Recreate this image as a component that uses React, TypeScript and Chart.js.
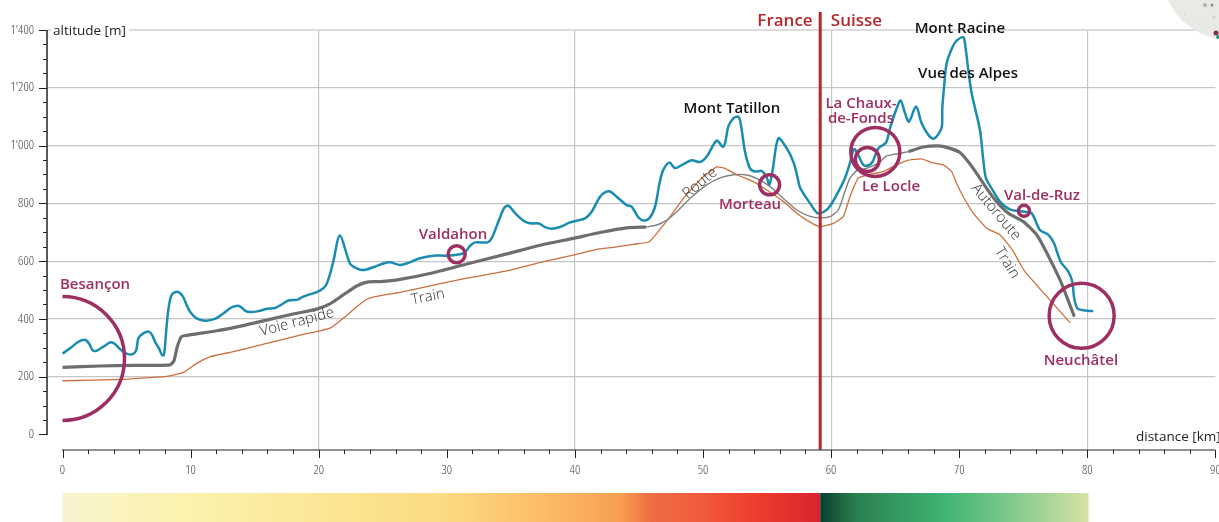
import React, { useEffect, useRef } from "react";
import { Chart, registerables } from "chart.js";

Chart.register(...registerables);

const terrainKm = [0,0.7,1.24,1.76,2.07,2.36,2.67,3.19,3.76,4.1,4.5,4.96,5.4,5.74,5.92,6.31,6.75,7.0,7.22,7.53,7.77,7.92,8.08,8.26,8.52,8.96,9.38,9.69,10.0,10.47,11.12,11.9,12.55,13.2,13.8,14.25,14.64,15.29,15.94,16.6,17.1,17.63,18.28,18.8,20.1,20.57,20.9,21.14,21.66,22.44,22.97,23.5,24.26,25.05,25.56,26.35,26.87,27.9,28.95,30.0,31.03,31.4,31.8,32.2,33.17,33.5,34.03,34.47,34.8,35.33,35.98,36.5,37.2,37.67,38.19,38.84,39.62,40.14,40.79,41.31,41.96,42.35,42.74,43.26,44.04,44.43,44.95,45.35,45.8,46.26,46.6,46.9,47.38,47.82,48.47,49.12,49.77,50.29,51.07,51.54,51.72,51.98,52.37,52.76,52.94,53.28,53.67,54.06,54.58,54.97,55.18,55.44,55.88,56.53,57.05,57.37,57.57,58.36,59.0,59.78,60.43,61.08,61.47,61.79,62.12,62.51,62.9,63.24,63.68,64.28,64.6,65.12,65.43,65.77,66.08,66.63,67.07,67.59,68.03,68.5,68.66,68.68,68.81,69.02,69.49,69.8,70.32,70.45,70.71,70.97,71.62,71.88,72.09,72.53,73.18,73.96,75.06,75.65,76.3,76.96,77.4,77.92,78.52,78.83,78.96,79.22,79.82,80.47];
const terrainAlt = [280,302,321,328,315,291,290,304,319,313,295,281,277,290,333,350,356,344,321,298,275,275,350,431,483,494,479,448,422,402,394,400,419,440,445,429,424,427,435,438,450,464,466,477,498,517,558,598,689,592,575,569,579,592,596,587,592,610,619,619,624,629,652,665,665,679,737,783,792,766,740,731,730,718,712,718,734,740,748,771,823,838,841,823,794,789,752,741,748,789,869,916,941,922,936,949,943,962,1017,996,1008,1066,1094,1100,1077,979,921,910,912,890,864,916,1025,991,944,892,855,800,765,783,829,887,939,988,967,933,931,944,990,1010,1060,1129,1156,1112,1083,1135,1077,1037,1024,1048,1071,1129,1198,1285,1342,1363,1375,1354,1262,1181,1054,950,887,852,806,779,771,766,708,691,662,598,564,529,477,437,429,427];

const motorwayWestKm = [0,2.93,5.53,8.39,8.7,8.96,9.3,9.69,12.03,14.1,15.94,18.0,19.84,20.88,21.92,22.97,23.87,24.8,26.35,28.95,31.55,34.68,37.28,39.88,41.96,44.04,45.55];
const motorwayWestAlt = [232,237,239,241,255,304,339,343,359,377,396,417,434,452,483,514,528,529,537,560,590,625,655,679,699,715,718];

const roadKm = [45.55,46.39,47.17,47.95,48.99,50.29,51.33,52.37,53.41,54.32,55.24,56.28,57.32,58.3,59.13,59.91,60.56,61.08,61.47,62.0,62.77,63.68,64.34,65.38,66.03];
const roadAlt = [718,725,742,771,817,864,888,899,898,883,858,817,777,756,750,754,777,841,887,913,921,939,964,973,979];

const motorwayEastKm = [66.03,67.2,68.37,69.15,70.06,70.71,71.36,72.14,72.92,73.83,75.0,76.05,76.7,77.87,78.39,78.99];
const motorwayEastAlt = [979,995,999,992,976,944,904,852,806,766,737,691,640,535,477,408];

const railKm = [0,4.75,6.83,8.13,9.43,10.47,11.5,13.34,15.94,18.54,20.1,21.0,21.92,22.97,23.75,24.5,26.35,28.95,31.55,34.68,37.54,39.88,41.7,43.0,44.56,45.81,46.39,47.43,48.47,49.77,51.07,51.72,52.63,53.93,54.97,56.28,57.32,58.35,59.13,60.17,60.95,61.47,62.12,62.77,64.07,65.12,65.9,67.07,67.85,68.76,69.41,69.8,70.32,71.1,72.14,73.18,74.15,74.74,75.13,77.09,78.65];
const railAlt = [186,191,197,201,215,246,269,287,315,344,359,371,402,442,468,478,492,517,541,566,598,621,641,648,658,667,696,754,817,881,926,921,899,875,846,806,766,735,719,731,754,823,887,898,910,933,948,954,941,933,910,869,823,766,714,691,639,592,564,465,387];

const border = { km: 59.15, from: -53, to: 1462 };

const towns = [
  { name: "Valdahon", km: 30.77, alt: 624, radius: 8.5 },
  { name: "Morteau", km: 55.2, alt: 864, radius: 10 },
  { name: "La Chaux-de-Fonds", km: 63.45, alt: 978, radius: 24.5 },
  { name: "Le Locle", km: 62.83, alt: 952, radius: 12 },
  { name: "Val-de-Ruz", km: 75.06, alt: 774, radius: 5.5 },
  { name: "Neuchâtel", km: 79.56, alt: 411, radius: 32.5 },
];
const firstTown = { name: "Besançon", km: 0, alt: 263, radius: 62 };

const townLabels: [string, number, number][] = [
  ["Besançon", 2.54, 518],
  ["Valdahon", 30.48, 691],
  ["Morteau", 53.67, 795],
  ["La Chaux-", 62.33, 1144],
  ["de-Fonds", 62.33, 1092],
  ["Le Locle", 64.68, 857],
  ["Val-de-Ruz", 76.46, 826],
  ["Neuchâtel", 79.5, 255],
];
const peakLabels: [string, number, number][] = [
  ["Mont Tatillon", 52.26, 1127],
  ["Mont Racine", 70.06, 1404],
  ["Vue des Alpes", 70.69, 1248],
];
const countryLabels: [string, number, number][] = [
  ["France", 56.4, 1432],
  ["Suisse", 61.98, 1432],
];
const routeLabels: [string, number, number, number][] = [
  ["Voie rapide", 18.3, 389, -15],
  ["Train", 28.53, 476, -11],
  ["Route", 49.77, 870, -40],
  ["Autoroute", 72.87, 770, 50],
  ["Train", 73.73, 594, 58],
];

const xTicks = [0,2,4,6,8,10,12,14,16,18,20,22,24,26,28,30,32,34,36,38,40,42,44,46,48,50,52,54,56,58,60,62,64,66,68,70,72,74,76,78,80,82,84,86,88,90];
const yTicks = [0,50,100,150,200,250,300,350,400,450,500,550,600,650,700,750,800,850,900,950,1000,1050,1100,1150,1200,1250,1300,1350,1400];
const xGridKm = [20, 40, 60, 80];

const franceStops: [number, string][] = [[0,"#f8f3cf"],[9,"#fbf3ae"],[20,"#fbe796"],[30,"#fcda82"],[35,"#fcc66f"],[40,"#f9b060"],[43.5,"#f79f50"],[46,"#ef6c42"],[50,"#f15a3c"],[54,"#ee3d2c"],[59.15,"#d92530"]];
const swissStops: [number, string][] = [[59.15,"#0a3f2e"],[62,"#2c8050"],[69,"#3fb574"],[74,"#80c98d"],[80.1,"#d5e3a3"]];

const FONT = '"Open Sans", sans-serif';
const PURPLE = "#9e2f62";
const RED = "#b3282d";

const zip = (xs: number[], ys: number[]) => xs.map((x, i) => ({ x, y: ys[i] }));
const pair = (km: number[], alt: number[], color: string, width: number, order: number, tension = 0.3) => ({
  type: "line",
  data: zip(km, alt),
  borderColor: color,
  borderWidth: width,
  pointRadius: 0,
  tension,
  fill: false,
  order,
});

const noPad = (s: any) => {
  s.paddingLeft = 0;
  s.paddingRight = 0;
  s.paddingTop = 0;
  s.paddingBottom = 0;
};

const decor = {
  id: "decor",
  afterDatasetsDraw(chart: any) {
    const { ctx, scales } = chart;
    const x = scales.x, y = scales.y;
    ctx.save();

    // axis lines and ticks
    ctx.strokeStyle = "#5a5a5a";
    ctx.lineWidth = 2;
    ctx.beginPath();
    ctx.moveTo(47, y.getPixelForValue(1400));
    ctx.lineTo(47, y.getPixelForValue(0) + 0.5);
    ctx.stroke();
    ctx.strokeStyle = "#222";
    ctx.lineWidth = 1;
    for (const v of yTicks) {
      const p = Math.round(y.getPixelForValue(v)) + 0.5;
      ctx.beginPath();
      ctx.moveTo(v % 200 === 0 ? 39 : 43, p);
      ctx.lineTo(47, p);
      ctx.stroke();
    }
    ctx.lineWidth = 1.2;
    ctx.beginPath();
    ctx.moveTo(x.getPixelForValue(0) - 0.5, 450);
    ctx.lineTo(x.getPixelForValue(90), 450);
    ctx.stroke();
    ctx.lineWidth = 1;
    for (const v of xTicks) {
      const p = Math.round(x.getPixelForValue(v)) + 0.5;
      ctx.beginPath();
      ctx.moveTo(p, 450);
      ctx.lineTo(p, v % 10 === 0 ? 458 : 454);
      ctx.stroke();
    }

    // gradient band
    const band = (stops: [number, string][]) => {
      const x0 = x.getPixelForValue(stops[0][0]);
      const x1 = x.getPixelForValue(stops[stops.length - 1][0]);
      const g = ctx.createLinearGradient(x0, 0, x1, 0);
      stops.forEach(([k, c]) => g.addColorStop((k - stops[0][0]) / (stops[stops.length - 1][0] - stops[0][0]), c));
      ctx.fillStyle = g;
      ctx.fillRect(x0, 493, x1 - x0, 29);
    };
    band(franceStops);
    band(swissStops);

    // corner of the map
    ctx.fillStyle = "#e9e9e5";
    ctx.beginPath();
    ctx.arc(1230, -28, 68, 0, Math.PI * 2);
    ctx.fill();
    for (const [dx, dy, r, c] of [[1216,33,2.5,"#8a2b4f"],[1218,37,2,"#2a9d7f"],[1212,5,1.5,"#8a8a80"],[1205,5,2,"#b0b0a8"],[1185,14,1.5,"#dcdcd8"],[1200,24,1.5,"#dcdcd8"],[1214,17,1.5,"#cfcfc8"]] as [number,number,number,string][]) {
      ctx.fillStyle = c;
      ctx.beginPath();
      ctx.arc(dx, dy, r, 0, Math.PI * 2);
      ctx.fill();
    }

    // text
    ctx.textAlign = "center";
    ctx.textBaseline = "middle";
    const put = (list: [string, number, number][], font: string, color: string) => {
      ctx.font = font;
      ctx.fillStyle = color;
      for (const [t, k, a] of list) ctx.fillText(t, x.getPixelForValue(k), y.getPixelForValue(a));
    };
    put(townLabels, `600 15px ${FONT}`, PURPLE);
    put(peakLabels, `600 15px ${FONT}`, "#111");
    put(countryLabels, `600 17px ${FONT}`, RED);

    ctx.font = `300 15px ${FONT}`;
    ctx.fillStyle = "#333";
    for (const [t, k, a, deg] of routeLabels) {
      ctx.save();
      ctx.translate(x.getPixelForValue(k), y.getPixelForValue(a));
      ctx.rotate((deg * Math.PI) / 180);
      ctx.fillText(t, 0, 0);
      ctx.restore();
    }

    ctx.font = `400 13.5px ${FONT}`;
    ctx.fillStyle = "#fff";
    ctx.fillRect(51, 22, 78, 17);
    ctx.fillStyle = "#222";
    ctx.textAlign = "left";
    ctx.fillText("altitude [m]", 53, 31);
    ctx.fillText("distance [km]", 1136, 437);
    ctx.restore();
  },
};

const tickFont = { family: '"Open Sans"', weight: "300 condensed", size: 13 };

export default function App() {
  const ref = useRef<HTMLCanvasElement>(null);
  useEffect(() => {
    const chart = new Chart(ref.current as HTMLCanvasElement, {
      type: "line",
      data: {
        datasets: [
          {
            type: "line",
            data: [{ x: border.km, y: border.from }, { x: border.km, y: border.to }],
            borderColor: RED,
            borderWidth: 3,
            pointRadius: 0,
            clip: false,
            order: 0,
          },
          {
            type: "scatter",
            data: towns.map((t) => ({ x: t.km, y: t.alt })),
            pointRadius: towns.map((t) => t.radius),
            pointBackgroundColor: "rgba(0,0,0,0)",
            pointBorderColor: PURPLE,
            pointBorderWidth: 3.5,
            clip: false,
            order: 1,
          },
          {
            type: "scatter",
            data: [{ x: firstTown.km, y: firstTown.alt }],
            pointRadius: firstTown.radius,
            pointBackgroundColor: "rgba(0,0,0,0)",
            pointBorderColor: PURPLE,
            pointBorderWidth: 3.5,
            clip: { left: -15.5, top: false, right: false, bottom: false },
            order: 1,
          },
          pair(motorwayWestKm, motorwayWestAlt, "#6e6e6e", 3.2, 2, 0.2),
          pair(motorwayEastKm, motorwayEastAlt, "#6e6e6e", 3.2, 2, 0.2),
          pair(roadKm, roadAlt, "#808080", 1.4, 3, 0.2),
          pair(terrainKm, terrainAlt, "#1a8cb0", 2.5, 4),
          pair(railKm, railAlt, "#cd6f3c", 1.3, 5, 0.15),
        ] as any,
      },
      options: {
        animation: false,
        responsive: false,
        events: [],
        layout: { autoPadding: false, padding: { top: 30, right: 3.6, left: 0, bottom: 0 } },
        plugins: { legend: { display: false }, tooltip: { enabled: false } },
        scales: {
          x: {
            type: "linear",
            min: -1.21,
            max: 90,
            afterBuildTicks: (s: any) => { s.ticks = xTicks.map((value) => ({ value })); },
            afterFit: (s: any) => { s.height = 72; noPad(s); },
            border: { display: false },
            grid: {
              drawTicks: false,
              color: (c: any) => (xGridKm.includes(c.tick?.value) ? "#c6c6c6" : "rgba(0,0,0,0)"),
              lineWidth: 1.2,
            },
            ticks: {
              autoSkip: false,
              maxRotation: 0,
              minRotation: 0,
              padding: 12,
              color: "#444",
              font: tickFont,
              callback: (v: any) => (v % 10 === 0 ? String(v) : ""),
            },
          },
          y: {
            type: "linear",
            min: -53.65,
            max: 1400,
            afterBuildTicks: (s: any) => { s.ticks = yTicks.map((value) => ({ value })); },
            afterFit: (s: any) => { s.width = 47; noPad(s); },
            border: { display: false },
            grid: {
              drawTicks: false,
              color: (c: any) => {
                const v = c.tick?.value;
                if (v === 1400) return "#dcdcdc";
                return v > 0 && v % 200 === 0 ? "#c6c6c6" : "rgba(0,0,0,0)";
              },
              lineWidth: (c: any) => (c.tick?.value === 1400 ? 2 : 1.2),
            },
            ticks: {
              autoSkip: false,
              padding: 13,
              color: "#444",
              font: tickFont,
              callback: (v: any) => {
                if (v % 200 !== 0) return "";
                return v >= 1000 ? `${Math.floor(v / 1000)}'${String(v % 1000).padStart(3, "0")}` : String(v);
              },
            },
          },
        },
      } as any,
      plugins: [decor],
    });
    return () => chart.destroy();
  }, []);
  return (
    <div style={{ position: "absolute", left: 0, top: 0, width: 1219, height: 522, background: "#fff" }}>
      <canvas ref={ref} width={1219} height={522} style={{ display: "block" }} />
    </div>
  );
}
